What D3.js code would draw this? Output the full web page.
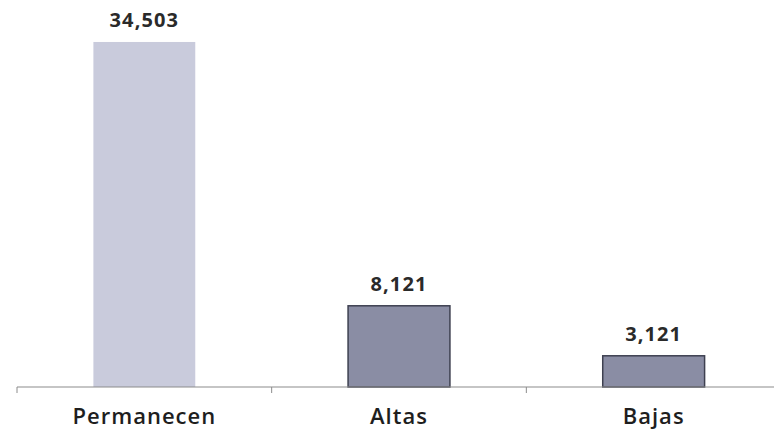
<!DOCTYPE html>
<html>
<head>
<meta charset="utf-8">
<script src="https://cdn.jsdelivr.net/npm/d3@7"></script>
<style>
  body { margin: 0; background: #fff; }
  svg { display: block; font-family: "Open Sans", Lato, sans-serif; }
</style>
</head>
<body>
<svg id="bar-chart"></svg>
<script>
const categories = ["Permanecen", "Altas", "Bajas"];
const values = [34503, 8121, 3121];
const barColors = ["#c9cbdc", "#8a8da4", "#8a8da4"];
const barStrokes = ["none", "#3e4050", "#3e4050"];

const width = 774, height = 431;
const margin = {top: 0, right: -7, bottom: 44, left: 17};
const innerW = width - margin.left - margin.right,
      innerH = height - margin.top - margin.bottom;

const svg = d3.select("#bar-chart")
  .attr("width", width)
  .attr("height", height)
  .append("g")
  .attr("transform", `translate(${margin.left},${margin.top})`);

const x = d3.scaleBand()
  .domain(categories)
  .range([0, innerW])
  .paddingInner(0.6)
  .paddingOuter(0.3);

const y = d3.scaleLinear()
  .domain([0, 38700])
  .range([innerH, 0]);

const data = categories.map((c, i) => ({cat: c, val: values[i], i}));

svg.selectAll(".bar")
  .data(data)
  .enter().append("rect")
  .attr("class", "bar")
  .attr("x", d => x(d.cat))
  .attr("y", d => y(d.val))
  .attr("width", x.bandwidth())
  .attr("height", d => innerH - y(d.val))
  .attr("fill", d => barColors[d.i])
  .attr("stroke", d => barStrokes[d.i])
  .attr("stroke-width", 1.5);

// value labels
svg.selectAll(".val")
  .data(data)
  .enter().append("text")
  .attr("x", d => x(d.cat) + x.bandwidth() / 2)
  .attr("y", d => y(d.val) - 15)
  .attr("text-anchor", "middle")
  .attr("font-size", 20)
  .attr("font-weight", 700)
  .attr("letter-spacing", 1.1)
  .attr("fill", "#2a2a2a")
  .text(d => d3.format(",")(d.val));

// axis
const axis = svg.append("g")
  .attr("transform", `translate(0,${innerH})`);
axis.append("line")
  .attr("x1", 0).attr("x2", width - margin.left)
  .attr("stroke", "#8c8c8c").attr("stroke-width", 1.2);

const step = x.step();
axis.selectAll(".tick")
  .data(d3.range(0, categories.length))
  .enter().append("line")
  .attr("x1", d => d * step)
  .attr("x2", d => d * step)
  .attr("y1", 0).attr("y2", 6)
  .attr("stroke", "#8c8c8c");

axis.selectAll(".cat")
  .data(categories)
  .enter().append("text")
  .attr("x", d => x(d) + x.bandwidth() / 2)
  .attr("y", 37)
  .attr("text-anchor", "middle")
  .attr("font-size", 22)
  .attr("font-weight", 600)
  .attr("letter-spacing", 1)
  .attr("fill", "#1e1e1e")
  .text(d => d);
</script>
</body>
</html>
